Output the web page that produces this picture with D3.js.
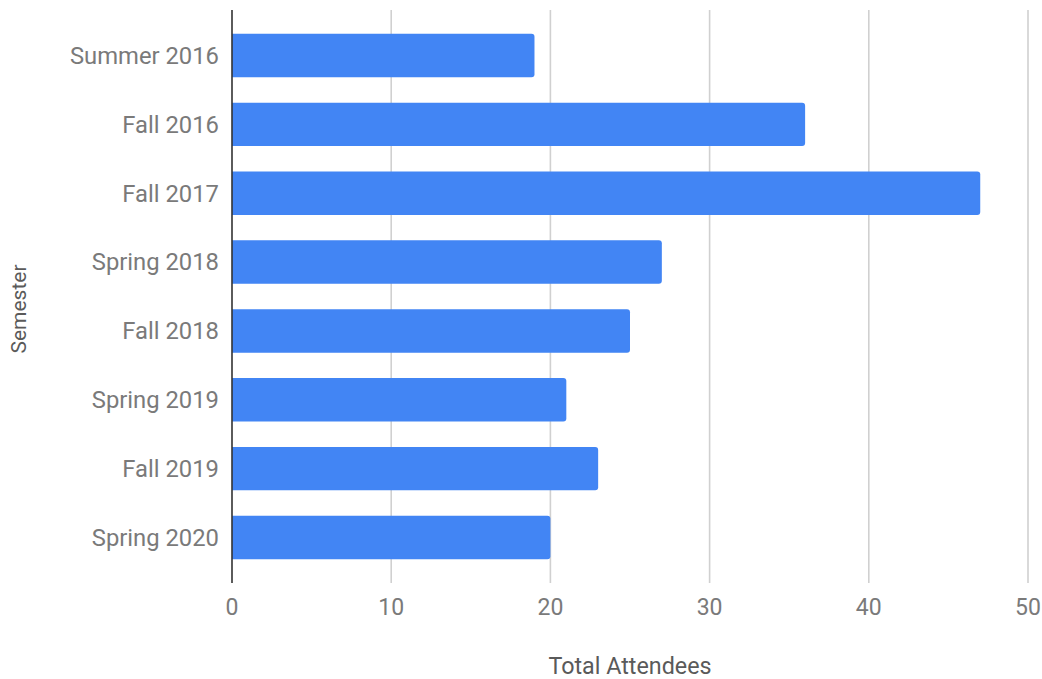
<!DOCTYPE html>
<html>
<head>
<meta charset="utf-8">
<script src="https://cdn.jsdelivr.net/npm/d3@7"></script>
<style>
  html, body { margin: 0; padding: 0; background: #fff; }
  svg { display: block; }
  text { font-family: Roboto, "Noto Sans", sans-serif; }
</style>
</head>
<body>
<svg id="chart" width="1042" height="679"></svg>
<script>
const categories = ["Summer 2016", "Fall 2016", "Fall 2017", "Spring 2018", "Fall 2018", "Spring 2019", "Fall 2019", "Spring 2020"];
const attendees = [19, 36, 47, 27, 25, 21, 23, 20];
const xTicks = [0, 10, 20, 30, 40, 50];
const xTitle = "Total Attendees";
const yTitle = "Semester";

(function () {
const svg = d3.select("#chart");
const pLeft = 232, pRight = 1028, pTop = 10, pBottom = 583;

const x = d3.scaleLinear().domain([0, 50]).range([pLeft, pRight]);
const y = d3.scaleBand().domain(categories).range([pTop, pBottom]).paddingInner(0.37).paddingOuter(0.345);

// gridlines
svg.append("g").selectAll("line").data(xTicks.filter(d => d !== 0)).join("line")
  .attr("x1", d => x(d)).attr("x2", d => x(d))
  .attr("y1", pTop).attr("y2", pBottom)
  .attr("stroke", "#d0d0d0").attr("stroke-width", 1.6);

// bars with rounded right end
const r = 3;
svg.append("g").selectAll("path").data(categories.map((c, i) => ({c, v: attendees[i]}))).join("path")
  .attr("fill", "#4285f4")
  .attr("d", d => {
    const x0 = x(0), x1 = x(d.v), y0 = y(d.c), h = y.bandwidth();
    return `M${x0},${y0} H${x1 - r} Q${x1},${y0} ${x1},${y0 + r} V${y0 + h - r} Q${x1},${y0 + h} ${x1 - r},${y0 + h} H${x0} Z`;
  });

// axis line
svg.append("line").attr("x1", x(0)).attr("x2", x(0)).attr("y1", pTop).attr("y2", pBottom)
  .attr("stroke", "#333").attr("stroke-width", 1.6);

// x tick labels
svg.append("g").selectAll("text").data(xTicks).join("text")
  .attr("x", d => x(d)).attr("y", 607).attr("dy", "0.35em")
  .attr("text-anchor", "middle").attr("font-size", 23).attr("fill", "#7a7a7a")
  .text(d => d);

// y labels
svg.append("g").selectAll("text").data(categories).join("text")
  .attr("x", 219).attr("y", d => y(d) + y.bandwidth() / 2).attr("dy", "0.35em")
  .attr("text-anchor", "end").attr("font-size", 23.8).attr("fill", "#7a7a7a")
  .text(d => d);

// axis titles
svg.append("text").attr("x", 630).attr("y", 666).attr("dy", "0.35em")
  .attr("text-anchor", "middle").attr("font-size", 23.3).attr("fill", "#5a5a5a")
  .text(xTitle);
svg.append("text").attr("transform", "translate(19,309) rotate(-90)").attr("dy", "0.35em")
  .attr("text-anchor", "middle").attr("font-size", 21).attr("fill", "#5a5a5a")
  .text(yTitle);
})();
</script>
</body>
</html>
